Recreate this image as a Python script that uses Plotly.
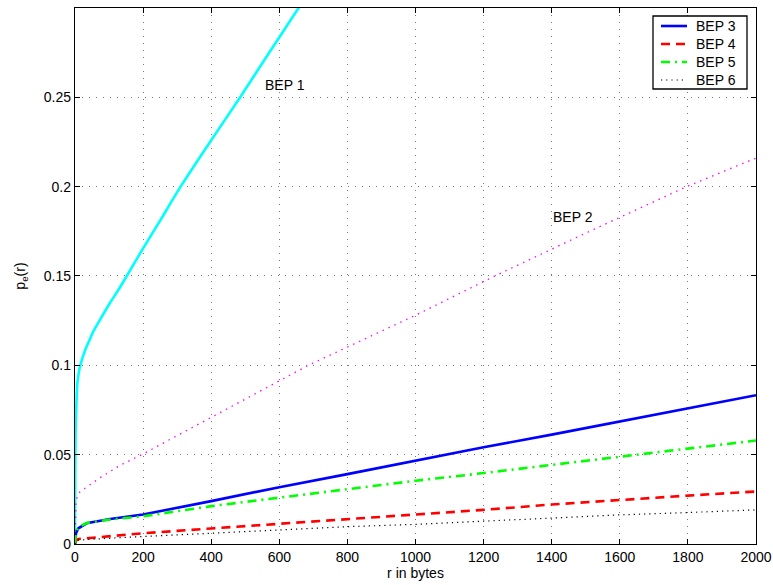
import plotly.graph_objects as go

# ---- data ----
r_bep1 = [0, 0.5, 1, 2, 4, 7, 12, 17, 29, 40, 54, 75, 103, 130, 149, 200, 250, 310, 400, 485, 560, 660, 700]
p_bep1 = [0, 0.03, 0.05, 0.065, 0.078, 0.09, 0.097, 0.101, 0.108, 0.113, 0.119, 0.126, 0.135, 0.143, 0.149, 0.1655, 0.181, 0.2, 0.226, 0.25, 0.272, 0.301, 0.313]

r_bep2 = [0, 1, 3, 8, 20, 73, 132, 196, 400, 685, 1000, 1233, 1500, 1796, 2000]
p_bep2 = [0, 0.015, 0.023, 0.028, 0.030, 0.037, 0.044, 0.05, 0.071, 0.1, 0.128, 0.15, 0.174, 0.2, 0.216]

r_bep3 = [0, 1, 3, 10, 34, 103, 200, 400, 600, 800, 1000, 1200, 1400, 1600, 1800, 2000]
p_bep3 = [0, 0.004, 0.006, 0.0088, 0.0116, 0.014, 0.0165, 0.024, 0.0318, 0.0391, 0.0468, 0.0541, 0.0612, 0.0687, 0.076, 0.0833]

r_bep4 = [0, 1, 10, 50, 103, 200, 400, 600, 800, 1000, 1200, 1400, 1600, 1800, 2000]
p_bep4 = [0, 0.0015, 0.0028, 0.0035, 0.0045, 0.006, 0.0087, 0.0113, 0.0139, 0.0163, 0.0191, 0.0221, 0.0247, 0.0271, 0.0294]

r_bep5 = [0, 1, 3, 10, 34, 103, 200, 400, 600, 800, 1000, 1200, 1400, 1600, 1800, 2000]
p_bep5 = [0, 0.004, 0.0065, 0.0095, 0.0117, 0.0137, 0.0155, 0.0212, 0.026, 0.0307, 0.0354, 0.0397, 0.0444, 0.0487, 0.0534, 0.0579]

r_bep6 = [0, 1, 10, 50, 100, 200, 400, 661, 800, 1000, 1200, 1400, 1600, 1800, 2000]
p_bep6 = [0, 0.0012, 0.0022, 0.0028, 0.0032, 0.0042, 0.006, 0.0084, 0.0097, 0.011, 0.0129, 0.0148, 0.0163, 0.0176, 0.0191]

legend_names = ["BEP 3", "BEP 4", "BEP 5", "BEP 6"]

x_ticks = [0, 200, 400, 600, 800, 1000, 1200, 1400, 1600, 1800, 2000]
y_ticks = [0, 0.05, 0.1, 0.15, 0.2, 0.25]
y_tick_text = ["0", "0.05", "0.1", "0.15", "0.2", "0.25"]

FONT = "Liberation Sans, Arial, Helvetica, sans-serif"

styles = {
    "BEP 1": dict(color="#00FFFF", width=2.6),
    "BEP 2": dict(color="#FF00FF", width=1.3, dash="1.5px,5px"),
    "BEP 3": dict(color="#0000FF", width=2.6),
    "BEP 4": dict(color="#FF0000", width=2.6, dash="9px,6px"),
    "BEP 5": dict(color="#00FF00", width=2.6, dash="9px,5px,2px,5px"),
    "BEP 6": dict(color="#000000", width=1.2, dash="1.2px,4px"),
}

fig = go.Figure()
fig.add_trace(go.Scatter(x=r_bep1, y=p_bep1, mode="lines", name="BEP 1", showlegend=False,
                         line=dict(**styles["BEP 1"], shape="spline", smoothing=0.6)))
fig.add_trace(go.Scatter(x=r_bep2, y=p_bep2, mode="lines", name="BEP 2", showlegend=False,
                         line=styles["BEP 2"]))
fig.add_trace(go.Scatter(x=r_bep3, y=p_bep3, mode="lines", name="BEP 3", showlegend=False,
                         line=styles["BEP 3"]))
fig.add_trace(go.Scatter(x=r_bep4, y=p_bep4, mode="lines", name="BEP 4", showlegend=False,
                         line=styles["BEP 4"]))
fig.add_trace(go.Scatter(x=r_bep5, y=p_bep5, mode="lines", name="BEP 5", showlegend=False,
                         line=styles["BEP 5"]))
fig.add_trace(go.Scatter(x=r_bep6, y=p_bep6, mode="lines", name="BEP 6", showlegend=False,
                         line=styles["BEP 6"]))

fig.add_annotation(x=617, y=0.257, text="BEP 1", showarrow=False,
                   font=dict(family=FONT, size=14, color="black"))
fig.add_annotation(x=1462, y=0.183, text="BEP 2", showarrow=False,
                   font=dict(family=FONT, size=14, color="black"))

# ---- compact MATLAB-style legend box (paper coordinates of the plot area) ----
L, R, T, B = 75, 756, 8, 544
def px(xp):
    return (xp - L) / (R - L)
def py(yp):
    return (B - yp) / (B - T)

fig.add_shape(type="rect", xref="paper", yref="paper",
              x0=px(653), x1=px(747), y0=py(89), y1=py(16),
              line=dict(color="black", width=1.3), fillcolor="white", layer="above")
row_y = [26, 44, 62, 80]
for name, yrow in zip(legend_names, row_y):
    fig.add_shape(type="line", xref="paper", yref="paper",
                  x0=px(661), x1=px(687), y0=py(yrow), y1=py(yrow),
                  line=styles[name], layer="above")
    fig.add_annotation(xref="paper", yref="paper", x=px(694), y=py(yrow),
                       xanchor="left", yanchor="middle", text=name, showarrow=False,
                       font=dict(family=FONT, size=14, color="black"))

axis_common = dict(
    showline=True, linecolor="black", linewidth=1.3, mirror="ticks",
    ticks="inside", ticklen=5, tickcolor="black", tickwidth=1,
    showgrid=True, gridcolor="#777777", gridwidth=1, griddash="1px,6px",
    zeroline=False, automargin=False,
    tickfont=dict(family=FONT, size=14, color="black"),
)

fig.update_xaxes(range=[0, 2000], tickvals=x_ticks,
                 title=dict(text="r in bytes", font=dict(family=FONT, size=14, color="black"), standoff=4),
                 **axis_common)
fig.update_yaxes(range=[0, 0.29998], tickvals=y_ticks, ticktext=y_tick_text,
                 title=dict(text="p<sub>e</sub>(r)", font=dict(family=FONT, size=14, color="black"), standoff=14),
                 **axis_common)

fig.update_layout(
    width=773, height=585,
    margin=dict(l=75, r=17, t=8, b=41),
    paper_bgcolor="white", plot_bgcolor="white",
    font=dict(family=FONT, size=14, color="black"),
    showlegend=False,
)

fig.write_html("out.html")
